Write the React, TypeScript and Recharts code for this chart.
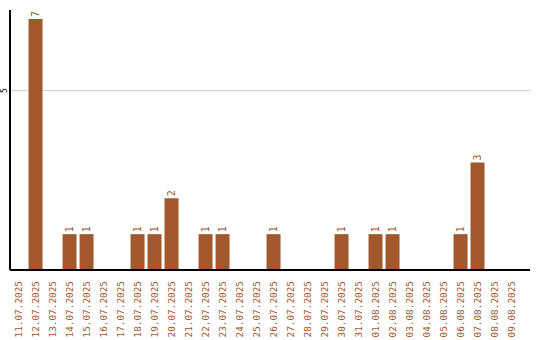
import { BarChart, Bar, XAxis, YAxis, CartesianGrid, LabelList } from 'recharts';

const dates = [
    '11.07.2025', '12.07.2025', '13.07.2025', '14.07.2025', '15.07.2025', '16.07.2025',
    '17.07.2025', '18.07.2025', '19.07.2025', '20.07.2025', '21.07.2025', '22.07.2025',
    '23.07.2025', '24.07.2025', '25.07.2025', '26.07.2025', '27.07.2025', '28.07.2025',
    '29.07.2025', '30.07.2025', '31.07.2025', '01.08.2025', '02.08.2025', '03.08.2025',
    '04.08.2025', '05.08.2025', '06.08.2025', '07.08.2025', '08.08.2025', '09.08.2025',
];
const counts = [
    0, 7, 0, 1, 1, 0,
    0, 1, 1, 2, 0, 1,
    1, 0, 0, 1, 0, 0,
    0, 1, 0, 1, 1, 0,
    0, 0, 1, 3, 0, 0,
];
const yTicks = [5];
const yMax = 7.25;

const BROWN = '#a0582c';
const FONT = '"DejaVu Sans Mono", monospace';

const data = dates.map((date, i) => ({ date, count: counts[i] }));

const DateTick = ({ x, y, payload }: any) => (
    <text
        transform={`translate(${x + 3},${y + 3}) rotate(-90)`}
        textAnchor="end"
        fontFamily={FONT}
        fontSize={9.4}
        fill={BROWN}
    >
        {payload.value}
    </text>
);

const CountTick = ({ y, payload }: any) => (
    <text
        transform={`translate(7,${y}) rotate(-90)`}
        textAnchor="middle"
        fontFamily={FONT}
        fontSize={8}
        fill="#000"
    >
        {payload.value}
    </text>
);

const ValueLabel = ({ x, y, width, value }: any) => {
    if (!value) return null;
    return (
        <text
            transform={`translate(${x + width / 2 + 3},${y - 2}) rotate(-90)`}
            textAnchor="start"
            fontFamily={FONT}
            fontSize={10}
            fill={BROWN}
        >
            {value}
        </text>
    );
};

// grid line only at the tick values, nothing at the axis ends
const gridRows = ({ offset }: any) =>
    yTicks.map(t => offset.top + offset.height * (1 - t / yMax));

export default function App() {
    return (
        <div style={{ position: 'absolute', left: 0, top: 0, background: '#fff' }}>
            <BarChart
                width={540}
                height={340}
                data={data}
                margin={{ top: 10, right: 10, bottom: 0, left: 0 }}
                barCategoryGap="9%"
            >
                <CartesianGrid
                    vertical={false}
                    stroke="#cccccc"
                    horizontalCoordinatesGenerator={gridRows}
                />
                <XAxis
                    dataKey="date"
                    interval={0}
                    height={70}
                    tickLine={false}
                    axisLine={{ stroke: '#000', strokeWidth: 2 }}
                    tick={<DateTick />}
                    padding={{ left: 0, right: 10 }}
                />
                <YAxis
                    width={10}
                    domain={[0, yMax]}
                    ticks={yTicks}
                    tickLine={false}
                    axisLine={{ stroke: '#000', strokeWidth: 2 }}
                    tick={<CountTick />}
                />
                <Bar dataKey="count" fill={BROWN} isAnimationActive={false}>
                    <LabelList dataKey="count" content={<ValueLabel />} />
                </Bar>
            </BarChart>
        </div>
    );
}
